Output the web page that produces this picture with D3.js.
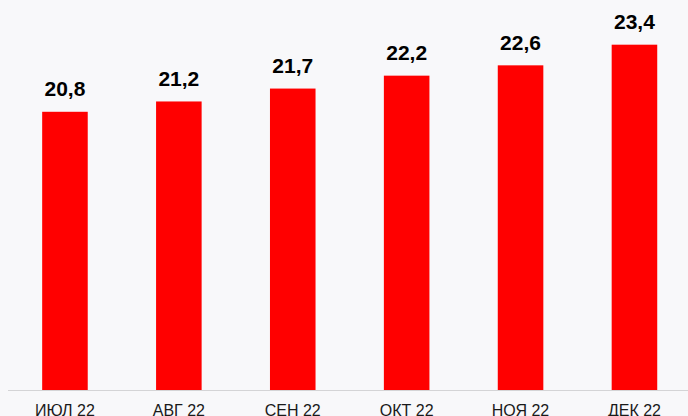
<!DOCTYPE html>
<html><head><meta charset="utf-8">
<script src="https://cdn.jsdelivr.net/npm/d3@7"></script>
<style>
html,body{margin:0;padding:0;background:#f8f8fa;}
svg{display:block;}
</style></head>
<body>
<svg id="chart" width="688" height="416"></svg>
<script>
const categories = ["ИЮЛ 22","АВГ 22","СЕН 22","ОКТ 22","НОЯ 22","ДЕК 22"];
const values = [20.8, 21.2, 21.7, 22.2, 22.6, 23.4];
const valueLabels = ["20,8","21,2","21,7","22,2","22,6","23,4"];

const svg = d3.select("#chart");
const x = d3.scaleBand().domain(categories).range([8, 691.4]).paddingInner(0.6).paddingOuter(0.3);
const y = d3.scaleLinear().domain([10, 25]).range([390.5, 3.4]);

svg.append("rect").attr("width",688).attr("height",416).attr("fill","#f8f8fa");

svg.selectAll("rect.bar").data(values).enter().append("rect")
  .attr("class","bar")
  .attr("x",(d,i)=>x(categories[i]))
  .attr("width",x.bandwidth())
  .attr("y",d=>y(d))
  .attr("height",d=>y(10)-y(d))
  .attr("fill","#ff0000");

svg.append("line").attr("x1",8).attr("x2",688).attr("y1",390.5).attr("y2",390.5)
  .attr("stroke","#d4d4d6").attr("stroke-width",1.2);

svg.selectAll("text.val").data(values).enter().append("text")
  .attr("class","val")
  .attr("x",(d,i)=>x(categories[i])+x.bandwidth()/2)
  .attr("y",d=>y(d)-15.5)
  .attr("text-anchor","middle")
  .attr("font-family","Liberation Sans, Arial, sans-serif")
  .attr("font-weight","bold")
  .attr("font-size","21px")
  .attr("fill","#000")
  .text((d,i)=>valueLabels[i]);

svg.selectAll("text.cat").data(categories).enter().append("text")
  .attr("class","cat")
  .attr("x",d=>x(d)+x.bandwidth()/2)
  .attr("y",416)
  .attr("text-anchor","middle")
  .attr("font-family","Liberation Sans, Arial, sans-serif")
  .attr("font-size","16px")
  .attr("fill","#1a1a1a")
  .text(d=>d);
</script>
</body></html>
